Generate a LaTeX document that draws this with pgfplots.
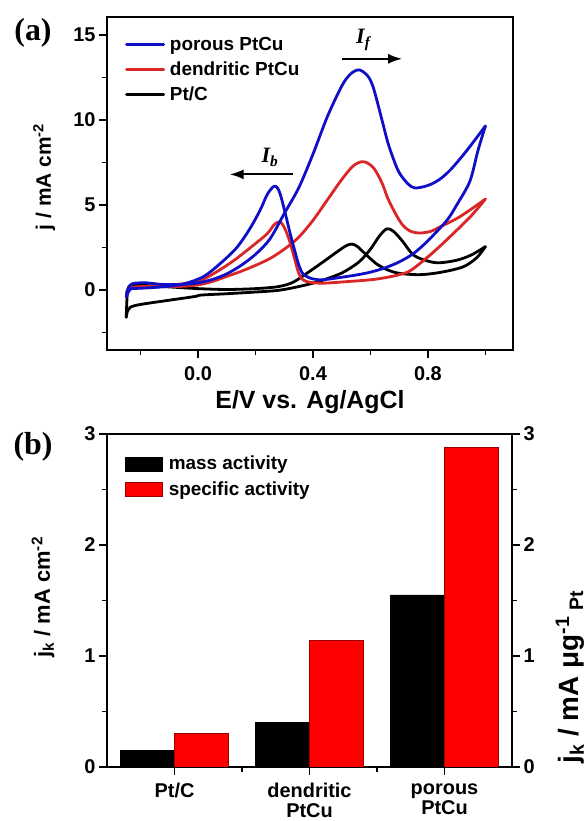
\documentclass[border=0pt]{standalone}
\usepackage{fontspec}
\setmainfont{Liberation Sans}
\newfontfamily\seriffont{Liberation Serif}
\usepackage{pgfplots}
\pgfplotsset{compat=1.18}
\usetikzlibrary{arrows.meta}
\definecolor{cvblue}{RGB}{15,15,200}
\definecolor{cvred}{RGB}{218,38,38}
\definecolor{barred}{RGB}{255,0,0}
\newcommand{\lblfont}{\bfseries\fontsize{25}{28}\selectfont}
\pgfplotsset{
  common/.style={
    scale only axis,
    /pgf/number format/assume math mode=true,
    tick align=outside,
    major tick length=8bp,
    minor tick length=5bp,
    axis line style={line width=1.6bp},
    every tick/.style={black, line width=1.4bp},
    tick label style={font=\bfseries\fontsize{20}{22}\selectfont},
  },
  cv/.style={line width=2.8bp, smooth, tension=0.5, line join=round, line cap=round},
}
\begin{document}
\begin{tikzpicture}
\useasboundingbox (0bp,0bp) rectangle (588bp,821bp);
% ---------------- panel (a)
\begin{axis}[common,
  at={(107bp,471bp)}, anchor=south west, width=406bp, height=333bp,
  xmin=-0.317, xmax=1.096, ymin=-3.53, ymax=16.06,
  xtick={0,0.4,0.8}, minor xtick={-0.2,0.2,0.6,1.0},
  ytick={0,5,10,15}, minor ytick={-2.5,2.5,7.5,12.5},
  xtick pos=bottom, ytick pos=left,
  x tick label style={yshift=-5bp,/pgf/number format/fixed,/pgf/number format/fixed zerofill,/pgf/number format/precision=1},
  xlabel={E/V vs. Ag/AgCl},
  ylabel={j / mA cm\textsuperscript{-2}},
  every axis x label/.style={at={(axis description cs:0.5,-0.156)}, anchor=center, font=\lblfont},
  every axis y label/.style={at={(axis description cs:-0.155,0.52)}, rotate=90, anchor=center, font=\bfseries\fontsize{21}{24}\selectfont},
  reverse legend,
  legend style={at={(0,1)}, anchor=north west, draw=none, fill=none,
    font=\bfseries\fontsize{19}{21}\selectfont, xshift=18bp, yshift=-18bp,
    row sep=6bp, inner sep=0pt, nodes={inner sep=2bp}},
  legend cell align=left,
  legend image code/.code={\draw[#1] (0bp,0bp) -- (37bp,0bp); \path (40bp,0bp);},
]
\addplot[black, cv] coordinates {
(-0.25,-1.6) (-0.245,-1.2) (-0.235,-1.0) (-0.2,-0.85) (-0.1,-0.6) (-0.01,-0.38) (0.01,-0.3) (0.1,-0.22) (0.2,-0.12) (0.28,-0.02) (0.35,0.2) (0.42,0.5) (0.5,1.0) (0.56,1.65) (0.6,2.4) (0.63,3.15) (0.657,3.6) (0.68,3.45) (0.71,2.9) (0.75,2.05) (0.8,1.7) (0.84,1.6) (0.9,1.75) (0.95,2.05) (1.0,2.55)
};
\addlegendentry{Pt/C}
\addplot[black, cv, forget plot] coordinates {
(1.0,2.55) (0.97,1.9) (0.93,1.42) (0.89,1.2) (0.83,1.0) (0.77,0.9) (0.7,0.98) (0.657,1.2) (0.62,1.55) (0.58,2.15) (0.555,2.55) (0.536,2.7) (0.515,2.6) (0.48,2.2) (0.435,1.65) (0.38,1.0) (0.33,0.45) (0.28,0.2) (0.2,0.08) (0.1,0.03) (0.0,0.08) (-0.1,0.18) (-0.2,0.28) (-0.23,0.3) (-0.245,0.0) (-0.25,-1.6)
};
\addplot[cvred, cv] coordinates {
(-0.25,-0.15) (-0.24,0.05) (-0.225,0.15) (-0.18,0.2) (-0.1,0.2) (-0.05,0.22) (0.0,0.3) (0.05,0.5) (0.1,0.8) (0.15,1.1) (0.2,1.45) (0.25,1.85) (0.3,2.4) (0.35,3.1) (0.4,4.1) (0.45,5.3) (0.5,6.5) (0.54,7.3) (0.575,7.55) (0.61,7.2) (0.64,6.3) (0.66,5.4) (0.69,4.4) (0.713,3.8) (0.74,3.45) (0.77,3.35) (0.81,3.45) (0.84,3.7) (0.9,4.2) (0.95,4.75) (1.0,5.35)
};
\addlegendentry{dendritic PtCu}
\addplot[cvred, cv, forget plot] coordinates {
(1.0,5.35) (0.95,4.35) (0.89,3.35) (0.84,2.55) (0.8,1.95) (0.74,1.15) (0.7,0.9) (0.65,0.72) (0.6,0.6) (0.5,0.47) (0.435,0.4) (0.39,0.45) (0.365,0.6) (0.35,1.0) (0.335,1.9) (0.32,2.8) (0.305,3.5) (0.29,3.95) (0.28,4.0) (0.265,3.85) (0.24,3.3) (0.19,2.6) (0.13,1.8) (0.077,1.2) (0.02,0.65) (-0.04,0.4) (-0.1,0.28) (-0.18,0.2) (-0.23,0.15) (-0.25,-0.15)
};
\addplot[cvblue, cv] coordinates {
(-0.25,-0.4) (-0.245,0.0) (-0.235,0.3) (-0.22,0.4) (-0.18,0.42) (-0.12,0.32) (-0.05,0.33) (0.0,0.42) (0.05,0.62) (0.1,0.95) (0.15,1.45) (0.2,2.1) (0.25,3.0) (0.3,4.5) (0.35,6.0) (0.4,8.0) (0.45,10.2) (0.5,12.0) (0.53,12.7) (0.56,12.95) (0.59,12.6) (0.61,11.9) (0.64,10.0) (0.66,8.7) (0.68,7.7) (0.70,6.9) (0.73,6.25) (0.755,6.0) (0.8,6.15) (0.84,6.5) (0.88,7.1) (0.935,8.2) (1.0,9.65)
};
\addlegendentry{porous PtCu}
\addplot[cvblue, cv, forget plot] coordinates {
(1.0,9.65) (0.974,8.2) (0.946,6.4) (0.9,5.0) (0.866,4.1) (0.8,2.9) (0.75,2.15) (0.7,1.65) (0.65,1.3) (0.6,1.05) (0.55,0.88) (0.5,0.75) (0.45,0.63) (0.42,0.6) (0.39,0.7) (0.365,0.95) (0.35,1.5) (0.335,2.4) (0.32,3.35) (0.305,4.4) (0.29,5.4) (0.28,5.9) (0.27,6.1) (0.26,6.05) (0.24,5.6) (0.216,4.7) (0.18,3.6) (0.135,2.5) (0.08,1.6) (0.02,0.8) (-0.05,0.35) (-0.1,0.22) (-0.15,0.15) (-0.2,0.1) (-0.235,0.05) (-0.25,-0.4)
};
\draw[line width=1.8bp, -{Latex[length=14bp,width=10bp]}] (axis cs:0.50,13.6) -- (axis cs:0.71,13.6);
\draw[line width=1.8bp, -{Latex[length=14bp,width=10bp]}] (axis cs:0.33,6.8) -- (axis cs:0.11,6.8);
\node[font=\seriffont\bfseries\itshape\fontsize{22}{23}\selectfont] at (axis cs:0.575,14.7) {I\textsubscript{f}};
\node[font=\seriffont\bfseries\itshape\fontsize{22}{23}\selectfont] at (axis cs:0.25,7.8) {I\textsubscript{b}};
\end{axis}
% ---------------- panel (b)
\begin{axis}[common,
  at={(107bp,54bp)}, anchor=south west, width=405bp, height=333bp,
  xmin=-0.5, xmax=2.5, ymin=0, ymax=3,
  xtick={0,1,2}, xticklabels={Pt/C, dendritic\\PtCu, porous\\PtCu},
  x tick label style={align=center, yshift=-5bp, font=\bfseries\fontsize{20}{20}\selectfont},
  minor xtick={0.5,1.5},
  ytick={0,1,2,3}, minor ytick={0.5,1.5,2.5},
  xtick pos=bottom, ytick pos=left,
  ylabel={j\textsubscript{k} / mA cm\textsuperscript{-2}},
  every axis y label/.style={at={(axis description cs:-0.158,0.51)}, rotate=90, anchor=center, font=\bfseries\fontsize{22}{26}\selectfont},
  legend style={at={(0,1)}, anchor=north west, draw=none, fill=none,
    font=\bfseries\fontsize{19}{21}\selectfont, xshift=18bp, yshift=-20bp,
    row sep=6bp, inner sep=0pt, nodes={inner sep=2bp}},
  legend cell align=left,
  legend image code/.code={\draw[#1] (0bp,-7bp) rectangle (37bp,7bp); \path (41bp,0bp);},
]
\addplot[ybar, bar width=0.4, bar shift=-0.2, fill=black, draw=black] coordinates {(0,0.15) (1,0.40) (2,1.55)};
\addlegendentry{mass activity}
\addplot[ybar, bar width=0.4, bar shift=0.2, fill=barred, draw=red!60!black, line width=0.6bp] coordinates {(0,0.30) (1,1.14) (2,2.88)};
\addlegendentry{specific activity}
\end{axis}
\begin{axis}[common,
  at={(107bp,54bp)}, anchor=south west, width=405bp, height=333bp,
  xmin=-0.5, xmax=2.5, ymin=0, ymax=3,
  axis x line=none, axis y line*=right,
  ytick={0,1,2,3}, minor ytick={0.5,1.5,2.5},
  ylabel={j\textsubscript{k} / mA μg\textsuperscript{-1}\hspace{6bp}\textsubscript{Pt}},
  every axis y label/.style={at={(axis description cs:1.143,0.0)}, rotate=90, anchor=west, font=\bfseries\fontsize{28}{30}\selectfont},
]
\end{axis}
\node[font=\seriffont\bfseries\fontsize{32}{34}\selectfont] at (33bp,788bp) {(a)};
\node[font=\seriffont\bfseries\fontsize{32}{34}\selectfont] at (33bp,374bp) {(b)};
\end{tikzpicture}
\end{document}
